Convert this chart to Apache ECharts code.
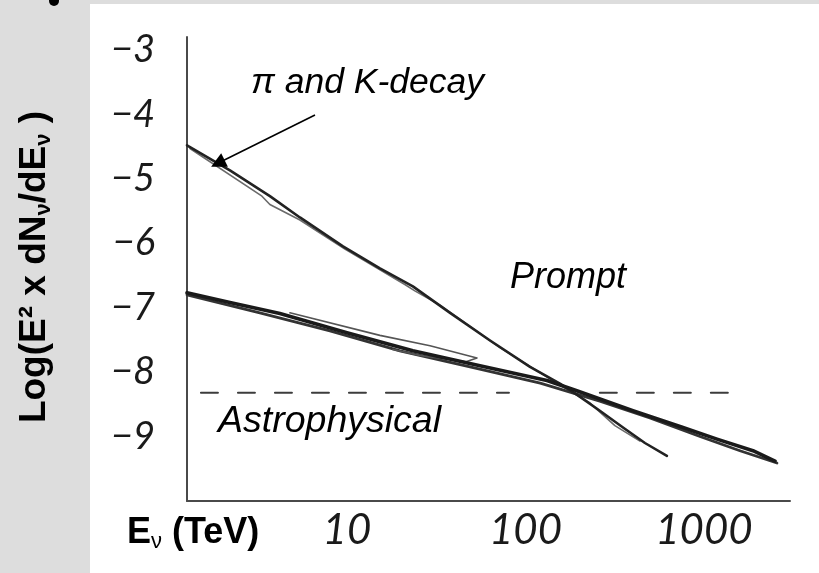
<!DOCTYPE html>
<html>
<head>
<meta charset="utf-8">
<script src="https://cdn.jsdelivr.net/npm/echarts@6/dist/echarts.min.js"></script>
<style>
html,body{margin:0;padding:0;background:#dddddd;}
#chart{width:819px;height:573px;}
</style>
</head>
<body>
<div id="chart"></div>
<script>
// ---- data (E in TeV, log10 of E^2 dN/dE) ----
const xTickLabels = [10, 100, 1000];
const yTickLabels = [-9, -8, -7, -6, -5, -4, -3];

// pi and K-decay (conventional) line, main stroke
const conventionalE   = [1.27, 2.21, 3.70, 5.45, 9.50, 15.3, 23.4, 37.8, 63.3, 106, 156, 194, 261, 352, 467, 620];
const conventionalLog = [-4.48, -4.87, -5.27, -5.60, -6.05, -6.39, -6.67, -7.08, -7.51, -7.92, -8.18, -8.35, -8.60, -8.86, -9.10, -9.30];
// second (lighter) stroke of the same hand-drawn line
const conventional2E   = [1.32, 3.34, 3.70, 5.45, 9.74, 21.1, 24.0, 33.2, 71.9, 156, 230, 317, 438];
const conventional2Log = [-4.53, -5.27, -5.40, -5.64, -6.09, -6.64, -6.74, -6.96, -7.62, -8.20, -8.48, -8.83, -9.07];

// prompt band, main stroke
const promptE   = [1.27, 2.21, 4.21, 10.0, 23.4, 55.6, 132, 194, 400, 763, 1183, 1882, 2500];
const promptLog = [-6.77, -6.92, -7.09, -7.39, -7.67, -7.90, -8.13, -8.29, -8.60, -8.86, -9.04, -9.22, -9.38];
// second stroke of the band
const prompt2E   = [1.27, 3.25, 8.03, 19.8, 48.9, 121, 261, 498, 950, 1591, 2564];
const prompt2Log = [-6.80, -7.08, -7.36, -7.67, -7.92, -8.17, -8.45, -8.71, -9.00, -9.22, -9.41];
// thin fork stroke above the band
const forkE   = [4.79, 15.3, 29.2, 53.5, 46.4, 25.6, 18.1];
const forkLog = [-7.08, -7.43, -7.59, -7.78, -7.84, -7.74, -7.65];

// astrophysical dashed level
const astroLevel = -8.32;
const astroSeg1E = [1.52, 80.8];
const astroSeg2E = [261, 1472];

// annotation arrow (tail -> tip)
const arrowE   = [6.62, 1.89];
const arrowLog = [-4.01, -4.76];

function zip(a, b) { return a.map((v, i) => [v, b[i]]); }

const chart = echarts.init(document.getElementById('chart'), null, {renderer: 'canvas'});

const handFont = 'Lato';
const lineSeries = (data, color, width, z, type) => ({
  type: 'line', data: data, showSymbol: false, symbol: 'none', silent: true,
  lineStyle: {color: color, width: width, type: type || 'solid', cap: 'round', join: 'round'},
  z: z, animation: false
});

const option = {
  backgroundColor: '#dddddd',
  animation: false,
  grid: {left: 187, right: 29, top: 37, bottom: 72, containLabel: false},
  xAxis: {
    type: 'log', logBase: 10, min: 1.27, max: 3034,
    axisLine: {show: true, onZero: false, lineStyle: {color: '#4a4a4a', width: 2}},
    axisTick: {show: false}, splitLine: {show: false}, minorTick: {show: false},
    axisLabel: {
      customValues: xTickLabels,
      formatter: function (v) {
        const t = xTickLabels.find(t => Math.abs(Math.log10(t) - Math.log10(v)) < 0.01);
        return t === undefined ? '' : String(t);
      },
      fontFamily: handFont, fontStyle: 'italic', fontWeight: 400, fontSize: 42,
      color: '#1a1a1a', margin: 8
    }
  },
  yAxis: {
    type: 'value', min: -10, max: -2.8,
    axisLine: {show: true, onZero: false, lineStyle: {color: '#4a4a4a', width: 2}},
    axisTick: {show: false}, splitLine: {show: false},
    axisLabel: {
      customValues: yTickLabels,
      formatter: function (v) {
        const t = yTickLabels.find(t => Math.abs(t - v) < 0.01);
        return t === undefined ? '' : '\u2212' + Math.abs(t);
      },
      fontFamily: handFont, fontStyle: 'italic', fontWeight: 400, fontSize: 38,
      color: '#1a1a1a', margin: 32
    }
  },
  graphic: [
    {type: 'rect', shape: {x: 90, y: 4, width: 729, height: 569}, style: {fill: '#ffffff'}, z: -10, silent: true},
    {type: 'circle', shape: {cx: 54, cy: 1, r: 5}, style: {fill: '#000'}, silent: true},
    {type: 'text', x: 35, y: 267, rotation: Math.PI / 2, silent: true,
      style: {
        text: '{m|Log(E\u00B2 x dN}{s|\u03BD}{m|/dE}{s|\u03BD}{m| )}',
        align: 'center', verticalAlign: 'middle',
        rich: {
          m: {fontFamily: 'Liberation Sans', fontWeight: 'bold', fontSize: 37, lineHeight: 40, fill: '#000'},
          s: {fontFamily: 'Liberation Sans', fontWeight: 'bold', fontSize: 22, lineHeight: 14, verticalAlign: 'bottom', fill: '#000'}
        }
      }},
    {type: 'text', x: 127, y: 533, silent: true,
      style: {
        text: '{m|E}{s|\u03BD}{m| (TeV)}',
        align: 'left', verticalAlign: 'middle',
        rich: {
          m: {fontFamily: 'Liberation Sans', fontWeight: 'bold', fontSize: 36, lineHeight: 40, fill: '#000'},
          s: {fontFamily: 'Liberation Sans', fontSize: 22, lineHeight: 14, verticalAlign: 'bottom', fill: '#000'}
        }
      }},
    {type: 'text', x: 251, y: 83, silent: true,
      style: {text: '\u03C0 and K-decay', fontFamily: 'Liberation Sans', fontStyle: 'italic', fontSize: 35.5,
        fill: '#000', align: 'left', verticalAlign: 'middle'}},
    {type: 'text', x: 510, y: 278, silent: true,
      style: {text: 'Prompt', fontFamily: 'Liberation Sans', fontStyle: 'italic', fontSize: 36,
        fill: '#000', align: 'left', verticalAlign: 'middle'}},
    {type: 'text', x: 218, y: 422, silent: true,
      style: {text: 'Astrophysical', fontFamily: 'Liberation Sans', fontStyle: 'italic', fontSize: 37.5,
        fill: '#000', align: 'left', verticalAlign: 'middle'}}
  ],
  series: [
    lineSeries(zip(conventional2E, conventional2Log), '#6a6a6a', 1.6, 2),
    lineSeries(zip(conventionalE, conventionalLog), '#222222', 2.6, 3),
    lineSeries(zip(prompt2E, prompt2Log), '#333333', 2.8, 2),
    lineSeries(zip(promptE, promptLog), '#1a1a1a', 3.6, 3),
    lineSeries(zip(forkE, forkLog), '#555555', 1.6, 2),
    lineSeries(astroSeg1E.map(e => [e, astroLevel]), '#3c3c3c', 2, 1, [17, 20]),
    lineSeries(astroSeg2E.map(e => [e, astroLevel]), '#3c3c3c', 2, 1, [17, 20]),
    {
      type: 'lines', coordinateSystem: 'cartesian2d', silent: true, animation: false,
      symbol: ['none', 'triangle'], symbolSize: [0, 15],
      lineStyle: {color: '#000', width: 1.6, opacity: 1},
      data: [{coords: zip(arrowE, arrowLog)}], z: 5
    }
  ]
};
chart.setOption(option);
</script>
</body>
</html>
